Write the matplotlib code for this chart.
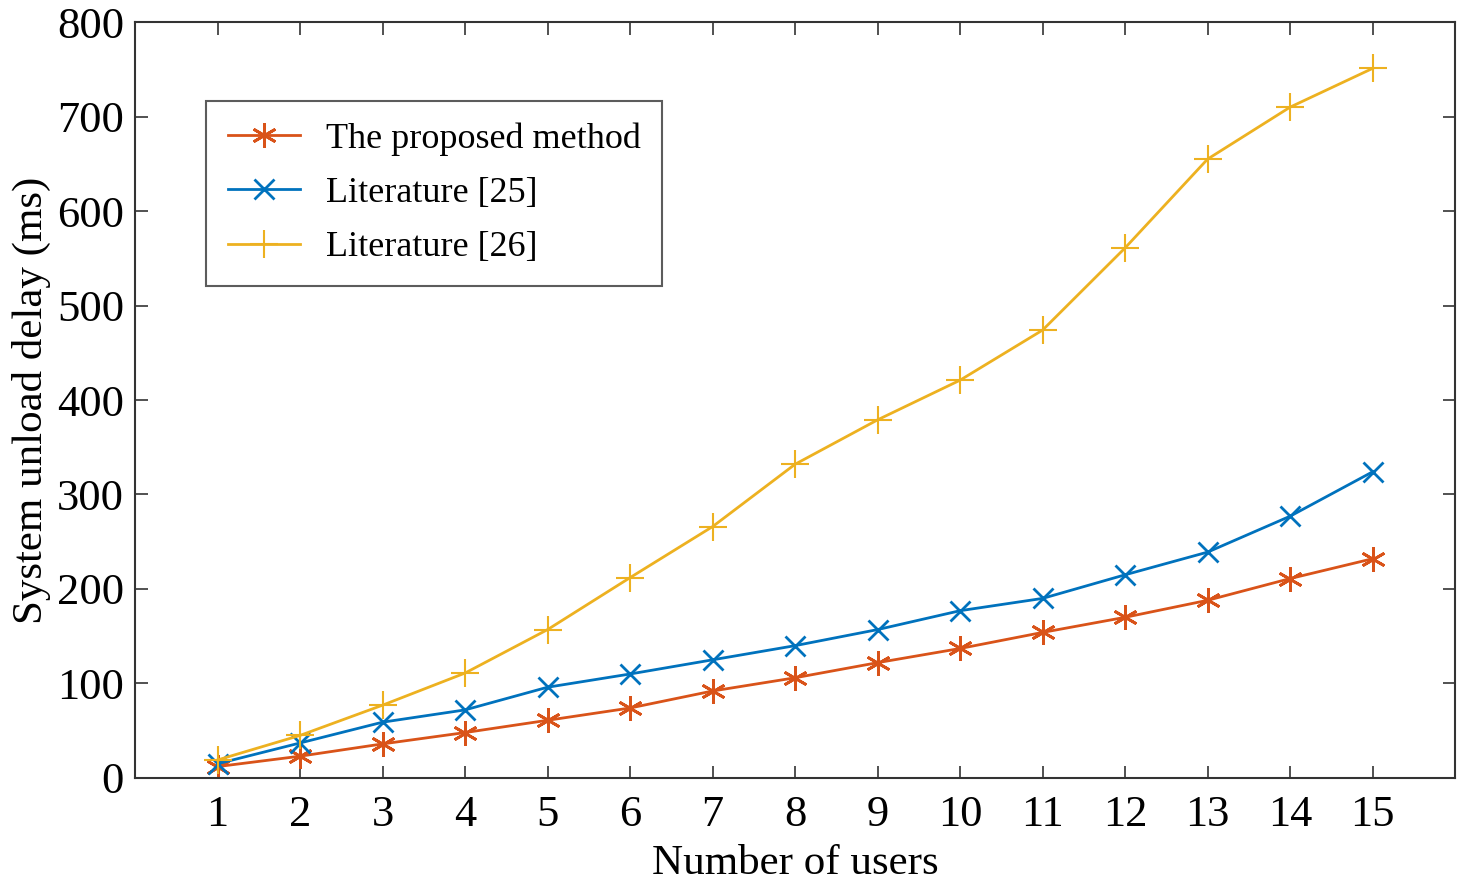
import numpy as np
import matplotlib.pyplot as plt

# --- données ---
users = np.arange(1, 16)
proposed = [12, 23, 36, 48, 61, 74, 92, 106, 122, 137, 154, 170, 188, 211, 232]
lit25 = [15, 37, 59, 72, 96, 110, 125, 140, 157, 177, 190, 215, 239, 277, 324]
lit26 = [19, 45, 77, 111, 157, 212, 266, 332, 379, 421, 474, 561, 655, 710, 751]

plt.rcParams['font.family'] = ['Liberation Serif', 'DejaVu Serif']

fig = plt.figure(figsize=(14.57, 8.84), dpi=100)
ax = fig.add_axes([0.0927, 0.12, 0.906, 0.855])

ax.plot(users, proposed, color='#D95319', marker=(6, 2, 0), markersize=18, linewidth=2,
        markeredgewidth=2, label='The proposed method')
ax.plot(users, lit25, color='#0072BD', marker='x', markersize=14, linewidth=2,
        markeredgewidth=2, label='Literature [25]')
ax.plot(users, lit26, color='#EDB120', marker='+', markersize=20, linewidth=2,
        markeredgewidth=1.5, label='Literature [26]')

ax.set_xlim(0, 16)
ax.set_ylim(0, 800)
ax.set_xticks(users)
ax.set_yticks(np.arange(0, 801, 100))
ax.tick_params(direction='in', top=True, right=True, length=9, width=1.2,
               labelsize=32, color='#333333')
ax.tick_params(axis='x', pad=12)
ax.tick_params(axis='y', pad=8)
for spine in ax.spines.values():
    spine.set_color('#333333')
    spine.set_linewidth(1.5)

ax.set_xlabel('Number of users', fontsize=31, labelpad=7)
ax.set_ylabel('System unload delay (ms)', fontsize=31, labelpad=4)

leg = ax.legend(loc='upper left', bbox_to_anchor=(0.054, 0.896), fontsize=26,
                frameon=True, fancybox=False, edgecolor='#333333',
                handlelength=2.0, handletextpad=0.7, borderpad=0.6,
                borderaxespad=0, labelspacing=0.58)
leg.get_frame().set_linewidth(1.5)

fig.savefig('out.png', dpi=100)
